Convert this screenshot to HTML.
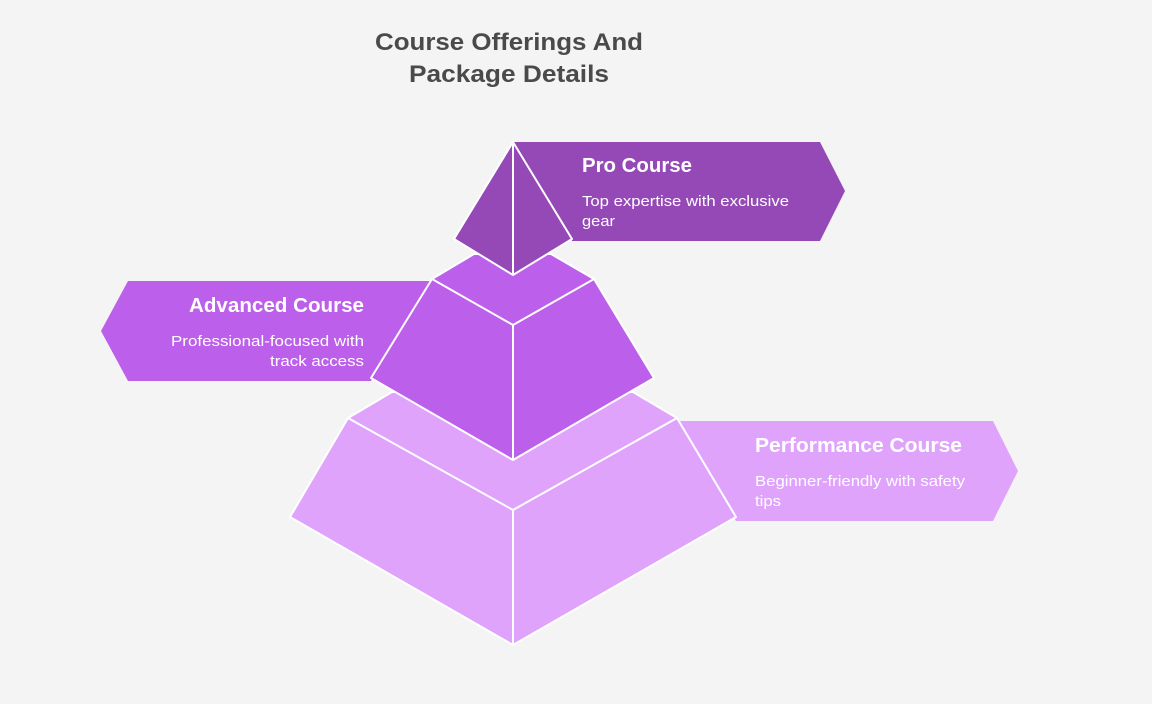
<!DOCTYPE html>
<html><head><style>
html,body{margin:0;padding:0;background:#f4f4f4;}
svg{display:block;font-family:"Liberation Sans",Arial,sans-serif;}
</style></head><body>
<svg width="1152" height="704" viewBox="0 0 1152 704" xmlns="http://www.w3.org/2000/svg">
<rect width="1152" height="704" fill="#f4f4f4"/>
<g font-weight="bold" fill="#4a4a4a" font-size="24" text-anchor="middle">
<text x="509" y="50" textLength="268" lengthAdjust="spacingAndGlyphs">Course Offerings And</text>
<text x="509" y="82" textLength="200" lengthAdjust="spacingAndGlyphs">Package Details</text>
</g>
<!-- banners -->
<polygon points="513,142 820,142 845,191 820,241 572,241" fill="#9549b7"/>
<polygon points="128,281 432,281 371,381 128,381 101,331" fill="#bc5fea"/>
<polygon points="677,421 993,421 1018,471 993,521 736,521" fill="#e0a3fc"/>
<g stroke="#ffffff" stroke-width="2" stroke-linejoin="round">
<!-- bottom tier -->
<polygon points="392,392 633,392 677,418 736,517 513,645 290,517 348,418" fill="#e0a3fc"/>
<polyline points="348,418 513,510 677,418" fill="none"/>
<line x1="513" y1="510" x2="513" y2="645"/>
<!-- middle tier -->
<polygon points="474,254 551,254 594,279 654,378 513,460 371,378 432,279" fill="#bc5fea"/>
<polyline points="432,279 513,325 594,279" fill="none"/>
<line x1="513" y1="325" x2="513" y2="460"/>
<!-- top -->
<polygon points="513,142 572,239 513,275 454,239" fill="#9549b7"/>
<line x1="513" y1="142" x2="513" y2="275"/>
</g>
<g fill="#ffffff" lengthAdjust="spacingAndGlyphs">
<text x="582" y="172" font-size="20" font-weight="bold" textLength="110" lengthAdjust="spacingAndGlyphs">Pro Course</text>
<text x="582" y="206" font-size="15" textLength="207" lengthAdjust="spacingAndGlyphs">Top expertise with exclusive</text>
<text x="582" y="226" font-size="15" textLength="33" lengthAdjust="spacingAndGlyphs">gear</text>
<text x="364" y="312" font-size="20" font-weight="bold" text-anchor="end" textLength="175" lengthAdjust="spacingAndGlyphs">Advanced Course</text>
<text x="364" y="346" font-size="15" text-anchor="end" textLength="193" lengthAdjust="spacingAndGlyphs">Professional-focused with</text>
<text x="364" y="366" font-size="15" text-anchor="end" textLength="94" lengthAdjust="spacingAndGlyphs">track access</text>
<text x="755" y="452" font-size="20" font-weight="bold" textLength="207" lengthAdjust="spacingAndGlyphs">Performance Course</text>
<text x="755" y="486" font-size="15" textLength="210" lengthAdjust="spacingAndGlyphs">Beginner-friendly with safety</text>
<text x="755" y="506" font-size="15" textLength="26" lengthAdjust="spacingAndGlyphs">tips</text>
</g>
</svg>
</body></html>
